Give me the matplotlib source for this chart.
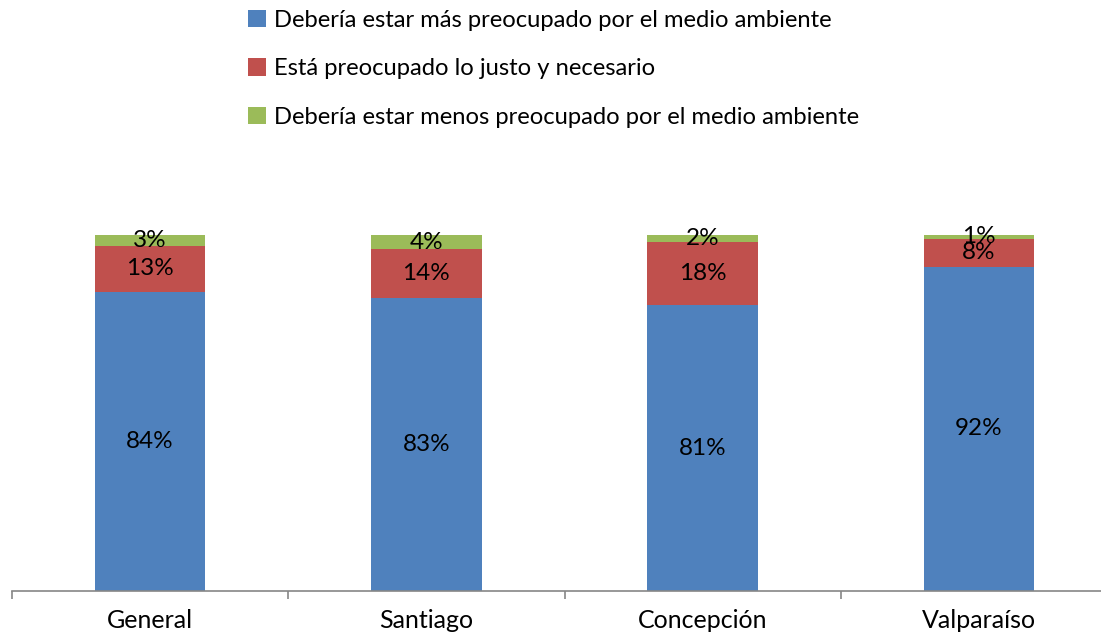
import matplotlib
matplotlib.use("Agg")
import matplotlib.pyplot as plt
from matplotlib.patches import Patch
import numpy as np

plt.rcParams['font.family'] = ['Lato', 'DejaVu Sans']

categories = ["General", "Santiago", "Concepción", "Valparaíso"]
series_names = ["Debería estar más preocupado por el medio ambiente",
                "Está preocupado lo justo y necesario",
                "Debería estar menos preocupado por el medio ambiente"]
mas = [84, 83, 81, 92]
justo = [13, 14, 18, 8]
menos = [3, 4, 2, 1]
colors = ["#4F81BD", "#C0504D", "#9BBB59"]

W, H = 1101, 638
fig = plt.figure(figsize=(W / 100, H / 100), dpi=100)
ax = fig.add_axes([12 / W, (H - 591) / H, (1117 - 12) / W, (591 - 235) / H])

data = np.array([mas, justo, menos], dtype=float)
totals = data.sum(axis=0)
shares = data / totals * 100
x = np.arange(len(categories))
bottom = np.zeros(len(categories))
for i in range(3):
    ax.bar(x, shares[i], 0.4, bottom=bottom, color=colors[i], label=series_names[i])
    for j in range(len(categories)):
        ax.text(x[j], bottom[j] + shares[i][j] / 2, f"{int(data[i][j])}%",
                ha='center', va='center', fontsize=17.5, color='black')
    bottom += shares[i]

ax.set_xlim(-0.5, 3.5)
ax.set_ylim(0, 100)
ax.set_yticks([])
for s in ['top', 'right', 'left']:
    ax.spines[s].set_visible(False)
ax.spines['bottom'].set_color('#868686')
ax.spines['bottom'].set_linewidth(1.2)
ax.set_xticks(np.arange(-0.5, 4, 1), minor=False)
ax.set_xticklabels([])
ax.tick_params(axis='x', which='major', length=6, color='#868686', width=1.2)
ax.set_xticks(x, minor=True)
ax.set_xticklabels(categories, minor=True, fontsize=18)
ax.tick_params(axis='x', which='minor', length=0, pad=13)

handles = [Patch(facecolor=c) for c in colors]
fig.legend(handles, series_names, loc='upper left',
           bbox_to_anchor=(236 / W, 1 + 2 / H), frameon=False, fontsize=17.1,
           handlelength=0.75, handleheight=0.75, handletextpad=0.35,
           labelspacing=1.15, borderaxespad=0.1)

fig.savefig("out.png", dpi=100)
